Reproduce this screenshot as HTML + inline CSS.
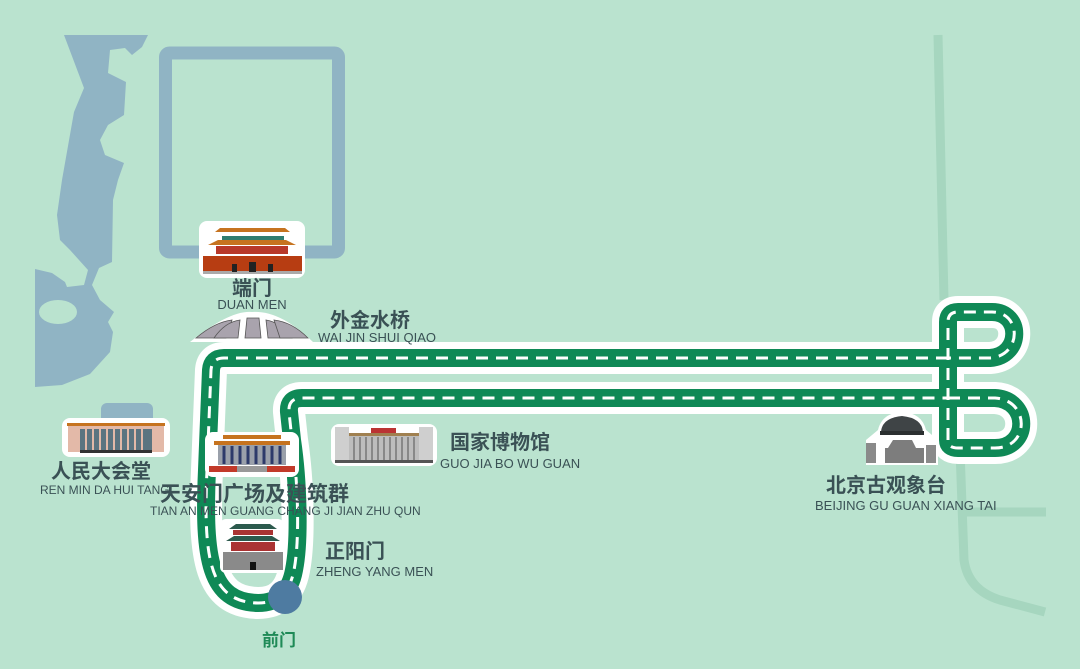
<!DOCTYPE html>
<html><head><meta charset="utf-8"><style>
body{margin:0;width:1080px;height:669px;overflow:hidden;background:#bae3cf}
svg{display:block}
.cn{font-family:"Liberation Sans","Noto Sans CJK SC",sans-serif;font-weight:bold;fill:#3a5155}
.en{font-family:"Liberation Sans","Noto Sans CJK SC",sans-serif;fill:#3a5155}
</style></head><body>
<svg width="1080" height="669" viewBox="0 0 1080 669" xmlns="http://www.w3.org/2000/svg">
<rect width="1080" height="669" fill="#bae3cf"/>
<g fill="none" stroke="#a6d6bf" stroke-width="9">
<path d="M938 35 L944 300"/>
<path d="M960 450 L964 560 Q968 590 1000 600 L1045 612"/>
<path d="M958 512 L1046 512"/>
</g>
<g fill="#90b4c4">
<path d="M64 35 L148 35 L142 47 L132 55 L125 48 L110 50 L108 73 L126 82 L124 115 L108 125 L100 140 L105 155 L124 163 L118 180 L113 200 L112 262 L99 268 L92 285 L100 300 L114 312 L108 322 L113 332 L110 352 L90 374 L62 385 L35 387 L35 269 L52 273 L65 282 L67 287 L84 285 L88 270 L70 250 L60 240 L57 215 L62 180 L74 112 L84 88 Z"/>
<rect x="101" y="403" width="52" height="30" rx="6"/>
</g>
<ellipse cx="58" cy="312" rx="19" ry="12" fill="#bae3cf"/>
<rect x="165.5" y="53" width="173" height="199" rx="4" fill="none" stroke="#90b4c4" stroke-width="13"/>

<g fill="none" stroke-linejoin="round" stroke-linecap="round">
<g id="r">
<path d="M948 358 L224 358 Q212 358 211 370 L207 470 C203 560 210 602 258 603 C278 603 290 592 294 570 C300 540 298 480 292 440 L289 412 Q288 398 302 398 L948 398"/>
<path d="M948 440 L948 322 Q948 312 958 312 L992 312 C1022 312 1022 356 990 358 L948 358 M948 398 L995 398 C1030 400 1030 448 995 448 L958 448 Q948 448 948 440"/>
</g>
</g>
<use href="#r" stroke="#ffffff" stroke-width="32" fill="none"/>
<use href="#r" stroke="#0f8956" stroke-width="18" fill="none"/>
<use href="#r" stroke="#ffffff" stroke-width="3" stroke-dasharray="12 8" fill="none"/>
<circle cx="285" cy="597" r="17" fill="#4e7ba1"/>

<rect x="199" y="221" width="106" height="57" rx="8" fill="#fff"/>
<polygon points="215,232 290,232 285,228 220,228" fill="#c6731f"/>
<rect x="222" y="236" width="62" height="5" fill="#2f7d70"/>
<polygon points="208,245 296,245 286,240 218,240" fill="#c6731f"/>
<rect x="216" y="246" width="72" height="8" fill="#b8392a"/>
<rect x="203" y="256" width="99" height="16" fill="#b73d12"/>
<rect x="203" y="271" width="99" height="3" fill="#aaa"/>
<rect x="232" y="264" width="5" height="8" fill="#222"/><rect x="249" y="262" width="7" height="10" fill="#222"/><rect x="268" y="264" width="5" height="8" fill="#222"/>
<text class="cn" x="252" y="295" font-size="20" text-anchor="middle">端门</text>
<text class="en" x="252" y="309" font-size="13" text-anchor="middle">DUAN MEN</text>

<path d="M190 342 Q230 310 252 312 Q280 310 313 342 Z" fill="#fff"/>
<g fill="#a9a3ad" stroke="#555" stroke-width="0.8">
<path d="M196 338 Q215 322 232 320 L226 338 Z"/>
<path d="M214 338 Q225 322 240 320 L238 338 Z"/>
<path d="M245 338 L247 318 L259 318 L261 338 Z"/>
<path d="M268 338 L266 320 Q280 322 292 338 Z"/>
<path d="M280 338 L274 320 Q292 322 308 338 Z"/>
</g>
<text class="cn" x="330" y="327" font-size="20">外金水桥</text>
<text class="en" x="318" y="342" font-size="13">WAI JIN SHUI QIAO</text>

<rect x="62" y="418" width="108" height="39" rx="8" fill="#fff"/>
<rect x="67" y="423" width="98" height="3" fill="#c6731f"/>
<rect x="68" y="426" width="96" height="26" fill="#e3b9a8"/>
<rect x="80" y="429" width="72" height="21" fill="#5b7480"/>
<g stroke="#e3b9a8" stroke-width="2"><path d="M86 429V450M93 429V450M100 429V450M107 429V450M114 429V450M121 429V450M128 429V450M135 429V450M142 429V450"/></g>
<rect x="80" y="450" width="72" height="3" fill="#333"/>
<text class="cn" x="101" y="478" font-size="20" text-anchor="middle">人民大会堂</text>
<text class="en" x="40" y="494" font-size="12">REN MIN DA HUI TANG</text>

<rect x="205" y="432" width="94" height="45" rx="8" fill="#fff"/>
<rect x="223" y="435" width="58" height="4" fill="#c6731f"/>
<rect x="214" y="441" width="76" height="4" fill="#c6731f"/>
<rect x="218" y="445" width="68" height="20" fill="#9aa0aa"/>
<g stroke="#2d3a6a" stroke-width="3"><path d="M224 446V464M232 446V464M240 446V464M248 446V464M256 446V464M264 446V464M272 446V464M280 446V464"/></g>
<rect x="209" y="466" width="86" height="6" fill="#c23a2a"/>
<rect x="237" y="466" width="30" height="6" fill="#999"/>
<text class="cn" x="160" y="501" font-size="21">天安门广场及建筑群</text>
<text class="en" x="150" y="515" font-size="12">TIAN AN MEN GUANG CHANG JI JIAN ZHU QUN</text>

<rect x="331" y="424" width="106" height="42" rx="8" fill="#fff"/>
<rect x="335" y="427" width="14" height="35" fill="#cfcfcf"/>
<rect x="419" y="427" width="14" height="35" fill="#cfcfcf"/>
<rect x="349" y="433" width="70" height="29" fill="#bdbdbd"/>
<rect x="371" y="428" width="25" height="5" fill="#b33"/>
<rect x="349" y="433" width="70" height="3" fill="#a08050"/>
<g stroke="#777" stroke-width="1.5"><path d="M354 437V460M360 437V460M366 437V460M372 437V460M378 437V460M384 437V460M390 437V460M396 437V460M402 437V460M408 437V460M414 437V460"/></g>
<rect x="335" y="460" width="98" height="3" fill="#555"/>
<text class="cn" x="450" y="449" font-size="20">国家博物馆</text>
<text class="en" x="440" y="468" font-size="13">GUO JIA BO WU GUAN</text>

<rect x="220" y="519" width="64" height="54" rx="6" fill="#fff"/>
<polygon points="229,529 277,529 270,524 236,524" fill="#2c5a4d"/>
<rect x="233" y="530" width="40" height="5" fill="#a33"/>
<polygon points="226,541 280,541 272,536 234,536" fill="#2c5a4d"/>
<rect x="231" y="542" width="44" height="9" fill="#a33"/>
<rect x="223" y="552" width="60" height="18" fill="#8a8a8a"/>
<rect x="250" y="562" width="6" height="8" fill="#111"/>
<text class="cn" x="325" y="558" font-size="20">正阳门</text>
<text class="en" x="316" y="576" font-size="13">ZHENG YANG MEN</text>

<path d="M866 465 L866 440 L878 430 Q882 413 902 412 Q922 413 926 430 L938 440 L938 465 Z" fill="#fff"/>
<path d="M881 432 Q882 418 902 416 Q922 418 923 432 Z" fill="#3f4446"/>
<rect x="880" y="431" width="44" height="4" fill="#2b2f30"/>
<polygon points="888,448 893,440 912,440 916,448 924,448 924,463 885,463 885,448" fill="#7d7d7d"/>
<rect x="866" y="443" width="10" height="20" fill="#8a8a8a"/>
<rect x="926" y="445" width="10" height="18" fill="#8a8a8a"/>
<text class="cn" x="826" y="492" font-size="20">北京古观象台</text>
<text class="en" x="815" y="510" font-size="13">BEIJING GU GUAN XIANG TAI</text>

<text x="279" y="646" font-size="17" text-anchor="middle" font-weight="bold" fill="#1f8a57" font-family="Liberation Sans,Noto Sans CJK SC,sans-serif">前门</text>
</svg>
</body></html>
